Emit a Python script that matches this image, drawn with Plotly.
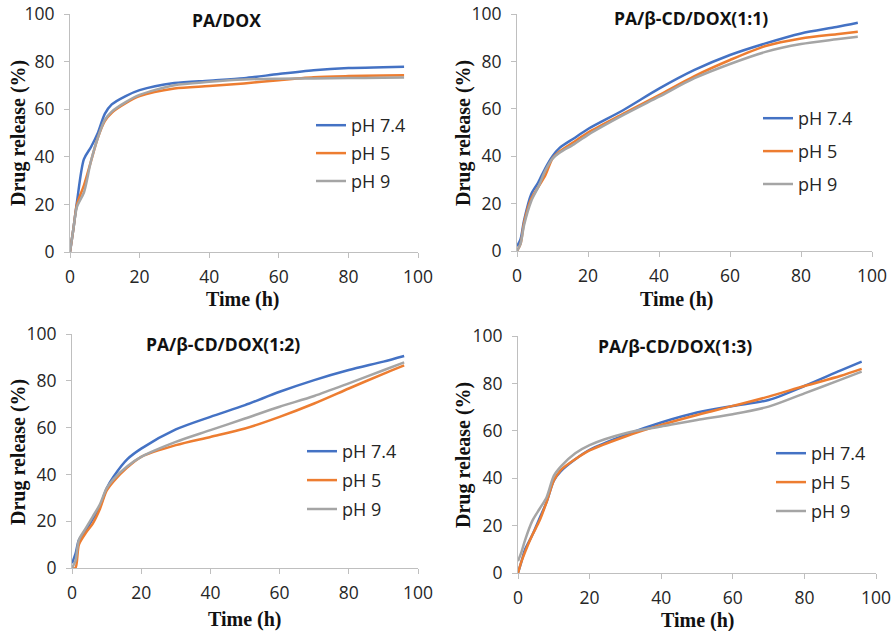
import plotly.graph_objects as go

W, H = 895, 631

time_h = [0, 1, 2, 4, 6, 8, 10, 12, 16, 20, 30, 40, 50, 60, 70, 80, 90, 96]
series_names = ["pH 7.4", "pH 5", "pH 9"]
colors = ["#4472C4", "#ED7D31", "#A5A5A5"]

# PA/DOX
p1_ph74 = [0, 10, 21, 39, 44, 50, 58, 62, 65.5, 68, 71, 72, 73, 74.8, 76.4, 77.3, 77.6, 77.8]
p1_ph5 = [0, 10, 20, 28, 38, 48, 55, 58.5, 62.5, 65.5, 68.7, 69.7, 70.8, 72.2, 73.4, 73.9, 74.2, 74.3]
p1_ph9 = [0, 10, 19, 25, 38, 48, 55.5, 59, 63, 66, 70.1, 71.5, 72.5, 72.8, 72.9, 73.1, 73.2, 73.3]
# PA/β-CD/DOX(1:1)
p2_ph74 = [2, 5, 13, 24, 29, 35, 40, 43.5, 47.5, 51.5, 59.5, 68.5, 76.4, 82.7, 87.6, 91.8, 94.5, 96.3]
p2_ph5 = [0, 3, 12, 22, 27, 32, 39, 42, 46, 50, 58, 65.8, 73.8, 80.6, 86.5, 89.7, 91.5, 92.5]
p2_ph9 = [0, 3, 11, 21, 27, 34, 39, 41.5, 45, 49, 57.4, 65.1, 72.9, 78.9, 84, 87.3, 89.3, 90.4]
# PA/β-CD/DOX(1:2)
p3_ph74 = [2, 6, 12, 16, 21, 26, 34, 39, 46.5, 51, 59.2, 64.6, 69.6, 75.3, 80.3, 84.6, 88.2, 90.6]
p3_ph5 = [0, 0, 10, 15, 19, 25, 33, 37, 43, 47.5, 52.5, 56, 59.6, 64.6, 70.3, 76.7, 83, 86.6]
p3_ph9 = [0, 3, 12, 17, 22, 27, 34, 38, 43.5, 47.5, 53.9, 58.9, 63.9, 68.9, 73.5, 78.9, 84.5, 87.9]
# PA/β-CD/DOX(1:3)
p4_ph74 = [0, 5, 10, 16, 23, 30, 39, 43, 48, 52, 58.3, 63.5, 67.7, 70.5, 73, 78.9, 85.4, 89.2]
p4_ph5 = [0, 5, 9, 16, 22, 30, 39, 43.5, 48, 51.7, 57.6, 62.5, 66.7, 70.5, 74.4, 78.9, 83.1, 86.1]
p4_ph9 = [5, 9, 14, 22, 27, 32, 41, 45, 50.5, 54, 59, 61.8, 64.6, 67, 70.2, 75.8, 81.5, 85]

panel_titles = ["PA/DOX", "PA/β-CD/DOX(1:1)", "PA/β-CD/DOX(1:2)", "PA/β-CD/DOX(1:3)"]
panel_data = [
    [p1_ph74, p1_ph5, p1_ph9],
    [p2_ph74, p2_ph5, p2_ph9],
    [p3_ph74, p3_ph5, p3_ph9],
    [p4_ph74, p4_ph5, p4_ph9],
]
x_ticks = [0, 20, 40, 60, 80, 100]
y_ticks = [0, 20, 40, 60, 80, 100]

# pixel boxes: left, right, top, bottom
boxes = [(70, 418, 14, 252), (517, 872, 14, 251), (72, 418, 334, 568), (518, 876, 336, 573)]
title_pos = [(226, 20), (691, 18), (223, 344), (675, 346)]
ytitle_pos = [(18, 133), (463, 133), (18, 452), (463, 455)]
xtitle_pos = [(243, 299), (677, 299), (245, 619), (698, 620)]
legend_pos = [(311, 107), (758, 100), (302, 433), (771, 435)]
legend_gaps = [1.5, 6.5, 2.5, 2.5]

def px(x):
    return x / W

def py(y):
    return 1 - y / H

fig = go.Figure()
layout = dict(
    width=W, height=H, margin=dict(l=0, r=0, t=0, b=0, autoexpand=False),
    paper_bgcolor="white", plot_bgcolor="white", showlegend=True,
)
annotations = []
tick_font = dict(family="Open Sans", size=17.5, color="#262626")
for i in range(4):
    l, r, t, b = boxes[i]
    xa = "xaxis" if i == 0 else f"xaxis{i+1}"
    ya = "yaxis" if i == 0 else f"yaxis{i+1}"
    xref = "x" if i == 0 else f"x{i+1}"
    yref = "y" if i == 0 else f"y{i+1}"
    leg = "legend" if i == 0 else f"legend{i+1}"
    axis_common = dict(
        showline=True, linecolor="#BFBFBF", linewidth=1, ticks="outside",
        ticklen=5, tickcolor="#BFBFBF", showgrid=False, zeroline=False,
        tickfont=tick_font, fixedrange=True, automargin=False,
    )
    layout[xa] = dict(domain=[px(l), px(r)], range=[0, 100], tickvals=x_ticks,
                      anchor=yref, ticklabelstandoff=4, **axis_common)
    layout[ya] = dict(domain=[py(b), py(t)], range=[0, 100], tickvals=y_ticks,
                      anchor=xref, ticklabelstandoff=6, **axis_common)
    lx, ly = legend_pos[i]
    layout[leg] = dict(x=px(lx), y=py(ly), xanchor="left", yanchor="top",
                       bgcolor="rgba(0,0,0,0)", tracegroupgap=legend_gaps[i],
                       font=dict(family="Open Sans", size=18, color="#262626"))
    for j in range(3):
        fig.add_trace(go.Scatter(
            x=time_h, y=panel_data[i][j], mode="lines", name=series_names[j],
            line=dict(color=colors[j], width=2.5, shape="spline", smoothing=0.8),
            xaxis=xref, yaxis=yref, legend=leg, legendgroup=f"g{i}_{j}",
            hoverinfo="skip",
        ))
    tx, ty = title_pos[i]
    annotations.append(dict(text="<b>" + panel_titles[i] + "</b>", x=px(tx), y=py(ty),
                            xref="paper", yref="paper", showarrow=False,
                            xanchor="center", yanchor="middle",
                            font=dict(family="Open Sans", size=17.5, color="#111")))
    yx, yy = ytitle_pos[i]
    annotations.append(dict(text="<b>Drug release (%)</b>", x=px(yx), y=py(yy),
                            xref="paper", yref="paper", showarrow=False, textangle=-90,
                            xanchor="center", yanchor="middle",
                            font=dict(family="Liberation Serif", size=20, color="#111")))
    xx, xy = xtitle_pos[i]
    annotations.append(dict(text="<b>Time (h)</b>", x=px(xx), y=py(xy),
                            xref="paper", yref="paper", showarrow=False,
                            xanchor="center", yanchor="middle",
                            font=dict(family="Liberation Serif", size=20, color="#111")))

layout["annotations"] = annotations
fig.update_layout(**layout)
fig.write_html("out.html", config={"displayModeBar": False},
               post_script="document.body.style.margin='0';document.body.style.overflow='hidden';")
